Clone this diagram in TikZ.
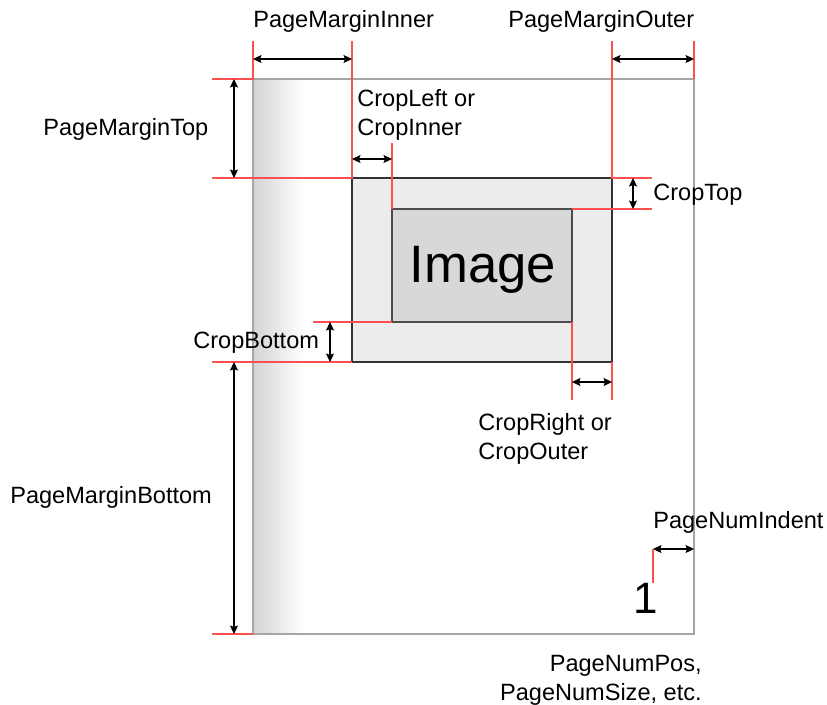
\documentclass[tikz,border=0pt]{standalone}
\usepackage{fontspec}
\setmainfont{Liberation Sans}
\usepackage{xcolor}
\usetikzlibrary{arrows.meta,positioning,calc}

\definecolor{guidered}{HTML}{FF4F4F}
\definecolor{cropfill}{HTML}{ECECEC}
\definecolor{imgfill}{HTML}{D8D8D8}

\begin{document}
\begin{tikzpicture}[
  x=0.02cm, y=-0.02cm,
  lbl/.style={font=\fontsize{13.4}{16.4}\selectfont, inner sep=0pt, align=left},
  dim/.style={{Stealth[length=1.7mm,width=1.6mm,inset=0.3mm]}-{Stealth[length=1.7mm,width=1.6mm,inset=0.3mm]}, line width=0.6pt},
  guide/.style={draw=guidered, line width=0.7pt},
  pageedge/.style={draw=black!35, line width=0.6pt},
  cropbox/.style={fill=cropfill, draw=black!80, line width=0.7pt},
  imgbox/.style={fill=imgfill, draw=black!70, line width=0.9pt},
]
\useasboundingbox[fill=white] (0,0) rectangle (827,704);

% page, crop area and image
\coordinate (pgNW) at (253,79);
\coordinate (pgSE) at (694,634);
\coordinate (crNW) at (352,178);
\coordinate (crSE) at (612,362);
\coordinate (imNW) at (392,209);
\coordinate (imSE) at (572,322);

\shade[left color=black!17, right color=white] (pgNW) rectangle (304,634);
\draw[draw=black!33, line width=1.1pt] (pgNW) -- (pgNW |- pgSE);
\draw[pageedge] (pgNW) rectangle (pgSE);
\draw[cropbox] (crNW) rectangle (crSE);
\draw[imgbox] (imNW) rectangle (imSE);
\node[font=\fontsize{30}{36}\selectfont, inner sep=0pt, anchor=base] (image) at (483,282) {Image};
\node[font=\fontsize{25}{30}\selectfont, inner sep=0pt, anchor=base west] (pagenum) at (633,613) {1};

% guide line ends
\foreach \n/\x/\y in {gInL/253/41, gInR/352/41, gOutL/612/41, gOutR/694/41,
    gTopL/212/79, gCropTL/212/178, gCropTR/652/178, gLeft/392/143,
    gTopR/652/209, gBotL/313/322, gBotR/212/362, gRightL/572/400,
    gRightR/612/400, gPageB/212/634, gNumT/653/549, gNumB/653/583}
  \coordinate (\n) at (\x,\y);

\draw[guide] (gInL) -- (pgNW) -- (gTopL);
\draw[guide] (gInR) -- (crNW) -- (gCropTL);
\draw[guide] (gOutL) -- (crSE |- crNW) -- (gCropTR);
\draw[guide] (gOutR) -- (pgSE |- pgNW);
\draw[guide] (gLeft) -- (imNW);
\draw[guide] (imSE |- imNW) -- (gTopR);
\draw[guide] (gBotL) -- (imNW |- imSE);
\draw[guide] (gBotR) -- (crNW |- crSE);
\draw[guide] (imSE) -- (gRightL);
\draw[guide] (crSE) -- (gRightR);
\draw[guide] (gPageB) -- (pgNW |- pgSE);
\draw[guide] (gNumT) -- (gNumB);

% dimension arrows
\foreach \n/\x/\y in {aInA/253/59, aInB/352/59, aOutA/612/59, aOutB/694/59,
    aTopA/234/79, aTopB/234/178, aLeftA/352/159, aLeftB/392/159,
    aCTopA/633/178, aCTopB/633/209, aCBotA/330/322, aCBotB/330/362,
    aBotA/234/362, aBotB/234/634, aRightA/572/382, aRightB/612/382,
    aNumA/653/549, aNumB/694/549}
  \coordinate (\n) at (\x,\y);

\draw[dim] (aInA) -- (aInB);
\draw[dim] (aOutA) -- (aOutB);
\draw[dim] (aTopA) -- (aTopB);
\draw[dim] (aLeftA) -- (aLeftB);
\draw[dim] (aCTopA) -- (aCTopB);
\draw[dim] (aCBotA) -- (aCBotB);
\draw[dim] (aBotA) -- (aBotB);
\draw[dim] (aRightA) -- (aRightB);
\draw[dim] (aNumA) -- (aNumB);

% labels
\node[lbl, anchor=base west] (inner)  at (253,27)  {PageMarginInner};
\node[lbl, anchor=base west] (outer)  at (508,27)  {PageMarginOuter};
\node[lbl, anchor=base west] (top)    at (43,135)  {PageMarginTop};
\node[lbl, anchor=north west] (left)  at (357,89)  {CropLeft or\\CropInner};
\node[lbl, anchor=base west] (ctop)   at (653,200) {CropTop};
\node[lbl, anchor=base west] (cbot)   at (193,348) {CropBottom};
\node[lbl, anchor=base west] (bottom) at (10,503)  {PageMarginBottom};
\node[lbl, anchor=north west] (right) at (478,413) {CropRight or\\CropOuter};
\node[lbl, anchor=base west] (indent) at (653,528) {PageNumIndent};
\node[lbl, anchor=north east, align=right] (numpos) at (702,655)
  {PageNumPos,\\PageNumSize, etc.};

\end{tikzpicture}
\end{document}
